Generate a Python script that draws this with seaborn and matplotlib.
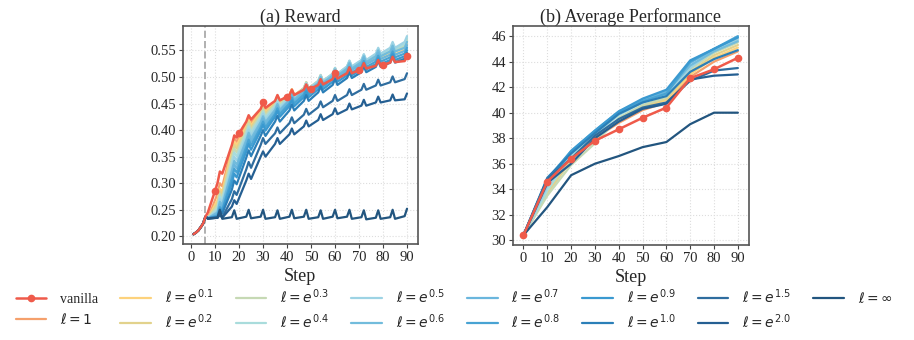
import numpy as np
import pandas as pd
import matplotlib
matplotlib.use("Agg")
import matplotlib.pyplot as plt
import seaborn as sns

labels = ["vanilla", r"$\ell=1$", r"$\ell=e^{0.1}$", r"$\ell=e^{0.2}$", r"$\ell=e^{0.3}$",
          r"$\ell=e^{0.4}$", r"$\ell=e^{0.5}$", r"$\ell=e^{0.6}$", r"$\ell=e^{0.7}$",
          r"$\ell=e^{0.8}$", r"$\ell=e^{0.9}$", r"$\ell=e^{1.0}$", r"$\ell=e^{1.5}$",
          r"$\ell=e^{2.0}$", r"$\ell=\infty$"]
colors = ["#ef5a4a", "#f5a06c", "#fdd27c", "#e2d28c", "#c6d9b4", "#a9dcdc", "#9dd3e4",
          "#72bcdc", "#6ab6dd", "#48a3d3", "#3a99d0", "#2b7fb8", "#2f6d9f", "#255f92", "#22557f"]

# ---- (a) Reward: shared warm-up, then peak / trough / pre-peak per 6-step cycle
warmup_steps = [1, 2, 3, 4, 5]
warmup_vals = [0.204, 0.207, 0.211, 0.217, 0.224]
peak_steps = [6, 12, 18, 24, 30, 36, 42, 48, 54, 60, 66, 72, 78, 84, 90]
trough_steps = [7, 13, 19, 25, 31, 37, 43, 49, 55, 61, 67, 73, 79, 85]
pre_steps = [11, 17, 23, 29, 35, 41, 47, 53, 59, 65, 71, 77, 83, 89]

reward_peaks = [
    [0.237, 0.322, 0.390, 0.428, 0.452, 0.466, 0.476, 0.486, 0.496, 0.508, 0.518, 0.526, 0.532, 0.538, 0.540],
    [0.237, 0.300, 0.385, 0.425, 0.448, 0.465, 0.477, 0.488, 0.498, 0.510, 0.520, 0.528, 0.535, 0.541, 0.545],
    [0.237, 0.290, 0.378, 0.420, 0.445, 0.463, 0.477, 0.490, 0.502, 0.514, 0.526, 0.536, 0.545, 0.553, 0.562],
    [0.237, 0.285, 0.372, 0.416, 0.442, 0.461, 0.476, 0.490, 0.503, 0.516, 0.528, 0.539, 0.549, 0.558, 0.567],
    [0.237, 0.280, 0.365, 0.412, 0.439, 0.459, 0.475, 0.490, 0.504, 0.517, 0.530, 0.541, 0.551, 0.561, 0.570],
    [0.237, 0.275, 0.358, 0.407, 0.435, 0.456, 0.473, 0.489, 0.503, 0.517, 0.530, 0.542, 0.553, 0.563, 0.573],
    [0.237, 0.270, 0.350, 0.401, 0.431, 0.453, 0.471, 0.488, 0.503, 0.517, 0.531, 0.543, 0.555, 0.566, 0.577],
    [0.237, 0.265, 0.342, 0.395, 0.426, 0.449, 0.468, 0.485, 0.500, 0.514, 0.527, 0.539, 0.550, 0.559, 0.566],
    [0.237, 0.260, 0.335, 0.389, 0.421, 0.445, 0.465, 0.482, 0.497, 0.511, 0.524, 0.535, 0.545, 0.553, 0.560],
    [0.237, 0.255, 0.327, 0.382, 0.416, 0.441, 0.461, 0.478, 0.493, 0.507, 0.519, 0.530, 0.540, 0.548, 0.555],
    [0.237, 0.252, 0.318, 0.374, 0.410, 0.436, 0.456, 0.473, 0.488, 0.502, 0.514, 0.525, 0.535, 0.543, 0.550],
    [0.237, 0.248, 0.305, 0.362, 0.400, 0.427, 0.448, 0.466, 0.482, 0.496, 0.509, 0.520, 0.530, 0.538, 0.545],
    [0.237, 0.243, 0.285, 0.340, 0.385, 0.405, 0.424, 0.440, 0.454, 0.466, 0.477, 0.487, 0.495, 0.501, 0.507],
    [0.237, 0.240, 0.268, 0.318, 0.360, 0.385, 0.403, 0.418, 0.430, 0.441, 0.450, 0.457, 0.463, 0.467, 0.469],
    [0.237, 0.250, 0.249, 0.250, 0.250, 0.249, 0.250, 0.250, 0.249, 0.250, 0.250, 0.249, 0.249, 0.250, 0.252],
]
reward_troughs = [
    [0.245, 0.318, 0.386, 0.420, 0.442, 0.456, 0.466, 0.476, 0.486, 0.497, 0.507, 0.516, 0.522, 0.528],
    [0.234, 0.294, 0.378, 0.414, 0.437, 0.454, 0.466, 0.477, 0.487, 0.499, 0.509, 0.517, 0.524, 0.530],
    [0.234, 0.284, 0.371, 0.409, 0.434, 0.452, 0.466, 0.479, 0.491, 0.503, 0.515, 0.525, 0.534, 0.542],
    [0.234, 0.279, 0.365, 0.405, 0.431, 0.450, 0.465, 0.479, 0.492, 0.505, 0.517, 0.528, 0.538, 0.547],
    [0.234, 0.274, 0.358, 0.401, 0.428, 0.448, 0.464, 0.479, 0.493, 0.506, 0.519, 0.530, 0.540, 0.550],
    [0.234, 0.269, 0.351, 0.396, 0.424, 0.445, 0.462, 0.478, 0.492, 0.506, 0.519, 0.531, 0.542, 0.552],
    [0.234, 0.264, 0.343, 0.390, 0.420, 0.442, 0.460, 0.477, 0.492, 0.506, 0.520, 0.532, 0.544, 0.555],
    [0.234, 0.259, 0.335, 0.384, 0.415, 0.438, 0.457, 0.474, 0.489, 0.503, 0.516, 0.528, 0.539, 0.548],
    [0.234, 0.255, 0.328, 0.378, 0.410, 0.434, 0.454, 0.471, 0.486, 0.500, 0.513, 0.524, 0.534, 0.542],
    [0.234, 0.250, 0.320, 0.371, 0.405, 0.430, 0.450, 0.467, 0.482, 0.496, 0.508, 0.519, 0.529, 0.537],
    [0.234, 0.247, 0.311, 0.363, 0.399, 0.425, 0.445, 0.462, 0.477, 0.491, 0.503, 0.514, 0.524, 0.532],
    [0.234, 0.243, 0.298, 0.351, 0.389, 0.416, 0.437, 0.455, 0.471, 0.485, 0.498, 0.509, 0.519, 0.527],
    [0.234, 0.236, 0.278, 0.329, 0.374, 0.394, 0.413, 0.429, 0.443, 0.455, 0.466, 0.476, 0.484, 0.490],
    [0.234, 0.235, 0.261, 0.308, 0.350, 0.374, 0.392, 0.407, 0.419, 0.430, 0.439, 0.446, 0.452, 0.456],
    [0.233, 0.233, 0.233, 0.234, 0.233, 0.233, 0.234, 0.233, 0.233, 0.234, 0.233, 0.232, 0.233, 0.233],
]
reward_pre = [
    [0.300, 0.372, 0.416, 0.440, 0.455, 0.466, 0.476, 0.485, 0.496, 0.507, 0.515, 0.521, 0.527, 0.530],
    [0.280, 0.368, 0.412, 0.437, 0.454, 0.466, 0.477, 0.487, 0.499, 0.509, 0.517, 0.524, 0.530, 0.534],
    [0.268, 0.360, 0.407, 0.434, 0.452, 0.466, 0.479, 0.491, 0.503, 0.515, 0.525, 0.534, 0.542, 0.551],
    [0.262, 0.354, 0.403, 0.431, 0.450, 0.465, 0.479, 0.492, 0.505, 0.517, 0.528, 0.538, 0.547, 0.556],
    [0.257, 0.347, 0.398, 0.428, 0.448, 0.464, 0.479, 0.493, 0.506, 0.519, 0.530, 0.540, 0.550, 0.559],
    [0.252, 0.340, 0.393, 0.424, 0.445, 0.462, 0.478, 0.492, 0.506, 0.519, 0.531, 0.542, 0.552, 0.562],
    [0.248, 0.332, 0.387, 0.420, 0.442, 0.460, 0.477, 0.492, 0.506, 0.520, 0.532, 0.544, 0.555, 0.566],
    [0.245, 0.324, 0.381, 0.415, 0.438, 0.457, 0.474, 0.489, 0.503, 0.516, 0.528, 0.539, 0.548, 0.555],
    [0.242, 0.317, 0.375, 0.410, 0.434, 0.454, 0.471, 0.486, 0.500, 0.513, 0.524, 0.534, 0.542, 0.549],
    [0.239, 0.309, 0.368, 0.405, 0.430, 0.450, 0.467, 0.482, 0.496, 0.508, 0.519, 0.529, 0.537, 0.544],
    [0.237, 0.300, 0.360, 0.399, 0.425, 0.445, 0.462, 0.477, 0.491, 0.503, 0.514, 0.524, 0.532, 0.539],
    [0.236, 0.288, 0.348, 0.389, 0.416, 0.437, 0.455, 0.471, 0.485, 0.498, 0.509, 0.519, 0.527, 0.534],
    [0.235, 0.270, 0.326, 0.372, 0.394, 0.413, 0.429, 0.443, 0.455, 0.466, 0.476, 0.484, 0.490, 0.496],
    [0.235, 0.256, 0.305, 0.350, 0.374, 0.392, 0.407, 0.419, 0.430, 0.439, 0.446, 0.452, 0.456, 0.458],
    [0.235, 0.236, 0.237, 0.237, 0.236, 0.237, 0.237, 0.236, 0.237, 0.237, 0.236, 0.235, 0.236, 0.238],
]
# vanilla marker points (every 10 steps)
vanilla_marker_steps = [10, 20, 40, 50, 70, 80]
vanilla_marker_vals = [0.286, 0.394, 0.463, 0.478, 0.513, 0.523]

# ---- (b) Average Performance
perf_steps = [0, 10, 20, 30, 40, 50, 60, 70, 80, 90]
perf_vals = [
    [30.4, 34.6, 36.4, 37.8, 38.7, 39.6, 40.4, 42.7, 43.4, 44.3],
    [30.4, 34.2, 36.6, 38.0, 39.2, 40.2, 40.8, 42.8, 44.0, 44.8],
    [30.4, 33.8, 36.5, 38.1, 39.4, 40.4, 41.0, 43.0, 44.3, 45.1],
    [30.4, 33.6, 36.3, 37.9, 39.5, 40.5, 41.1, 43.2, 44.5, 45.3],
    [30.4, 33.5, 35.9, 37.6, 39.6, 40.6, 41.2, 43.4, 44.7, 45.5],
    [30.4, 33.9, 36.6, 38.3, 39.8, 40.8, 41.4, 43.6, 45.0, 45.7],
    [30.4, 34.2, 36.8, 38.4, 39.9, 40.9, 41.5, 43.5, 44.9, 45.8],
    [30.4, 34.4, 36.9, 38.5, 40.0, 40.9, 41.6, 43.7, 44.8, 45.6],
    [30.4, 34.6, 37.0, 38.6, 40.1, 41.0, 41.7, 43.9, 45.0, 45.9],
    [30.4, 34.7, 36.9, 38.5, 40.0, 40.9, 41.5, 44.0, 45.0, 46.0],
    [30.4, 34.8, 37.0, 38.6, 40.1, 41.1, 41.8, 44.1, 45.0, 45.9],
    [30.4, 34.9, 36.8, 38.4, 39.9, 40.8, 41.3, 43.2, 44.2, 44.9],
    [30.4, 34.8, 36.4, 38.2, 39.5, 40.4, 40.8, 42.5, 43.3, 43.5],
    [30.4, 34.5, 36.0, 38.0, 39.3, 40.3, 40.7, 42.6, 42.9, 43.0],
    [30.4, 32.6, 35.1, 36.0, 36.6, 37.3, 37.7, 39.1, 40.0, 40.0],
]

sns.set_theme(style="whitegrid")
plt.rcParams["font.family"] = "serif"
plt.rcParams["font.serif"] = ["Liberation Serif", "DejaVu Serif"]
plt.rcParams["mathtext.fontset"] = "dejavusans"


def reward_frame(i):
    steps = list(warmup_steps) + [peak_steps[0]]
    vals = list(warmup_vals) + [reward_peaks[i][0]]
    for k in range(len(trough_steps)):
        steps += [trough_steps[k], pre_steps[k], peak_steps[k + 1]]
        vals += [reward_troughs[i][k], reward_pre[i][k], reward_peaks[i][k + 1]]
    if i == 0:
        steps += vanilla_marker_steps
        vals += vanilla_marker_vals
    df = pd.DataFrame({"step": steps, "value": vals}).sort_values("step")
    return df.reset_index(drop=True)


fig = plt.figure(figsize=(9.14, 3.40), dpi=100)
ax1 = fig.add_axes([0.200, 0.282, 0.257, 0.641])
ax2 = fig.add_axes([0.561, 0.279, 0.258, 0.644])

order = list(range(1, len(labels))) + [0]
for i in order:
    z = 5 if i == 0 else 2
    df = reward_frame(i)
    if i == 0:
        mk = df.index[df["step"] % 10 == 0].tolist()
        ax1.plot(df["step"], df["value"], color=colors[i], lw=1.8, marker="o",
                 markersize=4.5, markevery=mk, zorder=z)
    else:
        sns.lineplot(data=df, x="step", y="value", color=colors[i], lw=1.6,
                     ax=ax1, zorder=z)

handles = [None] * len(labels)
for i in order:
    z = 5 if i == 0 else 2
    if i == 0:
        h, = ax2.plot(perf_steps, perf_vals[i], color=colors[i], lw=1.8, marker="o",
                      markersize=4.5, zorder=z, label=labels[i])
    else:
        h, = ax2.plot(perf_steps, perf_vals[i], color=colors[i], lw=1.6, zorder=z,
                      label=labels[i])
    handles[i] = h

ax1.axvline(6, color="#b0b0b0", ls="--", lw=1.4, zorder=1)

ax1.set_xticks(range(0, 91, 10))
ax1.set_yticks(np.arange(0.20, 0.56, 0.05))
ax1.yaxis.set_major_formatter(matplotlib.ticker.FormatStrFormatter("%.2f"))
ax2.set_xticks(range(0, 91, 10))
ax2.set_yticks(range(30, 47, 2))

for ax, title in [(ax1, "(a) Reward"), (ax2, "(b) Average Performance")]:
    ax.set_title(title, fontsize=13, pad=3)
    ax.set_xlabel("Step", fontsize=13, labelpad=3)
    ax.set_ylabel("")
    ax.grid(True, color="#dddddd", ls=":", lw=0.8)
    ax.tick_params(axis="both", labelsize=10.5, length=3, width=0.8, color="#444444",
                   pad=2, bottom=True, left=True)
    for sp in ax.spines.values():
        sp.set_color("#555555")
        sp.set_linewidth(1.2)

fig.legend(handles, labels, loc="upper center", bbox_to_anchor=(0.497, 0.172), ncol=8,
           frameon=False, fontsize=10, handlelength=2.2, columnspacing=1.6,
           labelspacing=0.45, handletextpad=1.0, borderaxespad=0)

fig.savefig("out.png", dpi=100)
